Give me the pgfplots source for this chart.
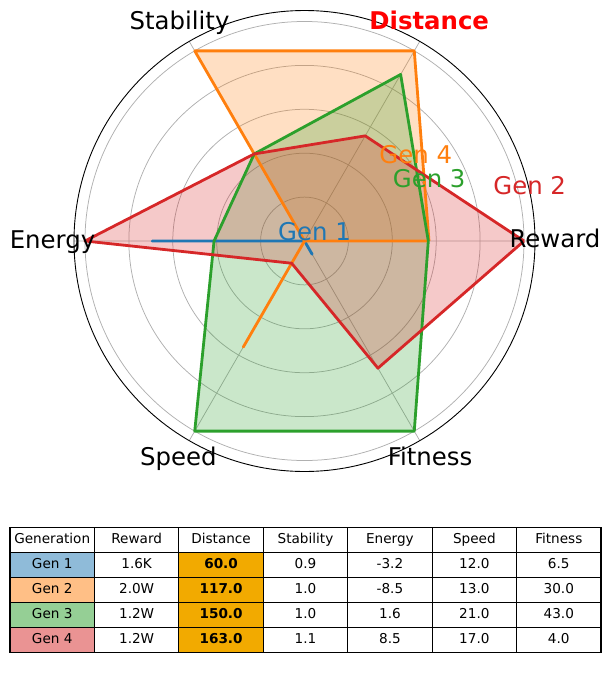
\documentclass[border=0pt]{standalone}
\usepackage{pgfplots}
\pgfplotsset{compat=1.18}
\usepgfplotslibrary{polar}
\usepackage{fontspec}
\setmainfont{DejaVu Sans}
\definecolor{tabblue}{RGB}{31,119,180}
\definecolor{taborange}{RGB}{255,127,14}
\definecolor{tabgreen}{RGB}{44,160,44}
\definecolor{tabred}{RGB}{214,39,40}
\definecolor{cblue}{RGB}{143,187,217}
\definecolor{corange}{RGB}{255,191,134}
\definecolor{cgreen}{RGB}{149,207,149}
\definecolor{cred}{RGB}{234,147,147}
\definecolor{cgold}{RGB}{242,170,0}
\definecolor{gridgray}{RGB}{176,176,176}
\newcommand{\lblfont}{\fontsize{24.4}{29}\selectfont}
\newcommand{\tabfont}{\fontsize{13.6}{16}\selectfont}
\newcommand{\tcell}[4]{%
  \path[draw=black, line width=1.1pt, fill=#3] ({10pt+#1*84.43pt},{-527.3pt-#2*25pt}) rectangle ++(84.43pt,-25pt);
  \node[anchor=base, inner sep=0pt, font=\tabfont] at ({10pt+(#1+0.5)*84.43pt},{-527.3pt-(#2+0.5)*25pt-3.6pt}) {#4};}
\begin{document}
\begin{tikzpicture}
\useasboundingbox (0pt,0pt) rectangle (611pt,-676pt);
\begin{polaraxis}[
  at={(304.5pt,-241pt)}, anchor=center,
  scale only axis, width=461pt, height=461pt,
  xmin=0, xmax=360, ymin=0, ymax=1.05,
  xtick={0,60,120,180,240,300}, xticklabels={},
  ytick={0.2,0.4,0.6,0.8,1.0}, yticklabels={},
  grid=major,
  major grid style={draw=gridgray, line width=0.75pt},
  major tick length=0pt,
  x axis line style={line width=0.9pt, black},
  y axis line style={draw=none},
  clip=false,
]
% fills
\addplot[draw=none, fill=tabblue, fill opacity=0.25] coordinates {(0,0) (60,0) (120,0) (180,0.694) (240,0) (300,0.07) (360,0)};
\addplot[draw=none, fill=taborange, fill opacity=0.25] coordinates {(0,0.567) (60,1.0) (120,1.0) (180,0) (240,0.558) (300,0) (360,0.567)};
\addplot[draw=none, fill=tabgreen, fill opacity=0.25] coordinates {(0,0.564) (60,0.876) (120,0.458) (180,0.412) (240,1.0) (300,1.0) (360,0.564)};
\addplot[draw=none, fill=tabred, fill opacity=0.25] coordinates {(0,1.0) (60,0.553) (120,0.458) (180,1.0) (240,0.117) (300,0.669) (360,1.0)};
% lines
\addplot[tabblue, line width=2.8pt, line join=round] coordinates {(0,0) (60,0) (120,0) (180,0.694) (240,0) (300,0.07) (360,0)};
\addplot[taborange, line width=2.8pt, line join=round] coordinates {(0,0.567) (60,1.0) (120,1.0) (180,0) (240,0.558) (300,0) (360,0.567)};
\addplot[tabgreen, line width=2.8pt, line join=round] coordinates {(0,0.564) (60,0.876) (120,0.458) (180,0.412) (240,1.0) (300,1.0) (360,0.564)};
\addplot[tabred, line width=2.8pt, line join=round] coordinates {(0,1.0) (60,0.553) (120,0.458) (180,1.0) (240,0.117) (300,0.669) (360,1.0)};
\end{polaraxis}
% axis category labels
\node[anchor=base, inner sep=0pt, font=\lblfont] at (555pt,-247.3pt) {Reward};
\node[anchor=base, inner sep=0pt, font=\lblfont\bfseries, text={rgb,255:red,255;green,0;blue,0}] at (429.2pt,-30pt) {Distance};
\node[anchor=base, inner sep=0pt, font=\lblfont] at (179.5pt,-30pt) {Stability};
\node[anchor=base, inner sep=0pt, font=\lblfont] at (52.5pt,-248.3pt) {Energy};
\node[anchor=base, inner sep=0pt, font=\lblfont] at (178.3pt,-465pt) {Speed};
\node[anchor=base, inner sep=0pt, font=\lblfont] at (430pt,-465pt) {Fitness};
% series labels
\node[anchor=base, inner sep=0pt, font=\lblfont, text=taborange] at (415.8pt,-163.3pt) {Gen 4};
\node[anchor=base, inner sep=0pt, font=\lblfont, text=tabgreen] at (429.2pt,-187.7pt) {Gen 3};
\node[anchor=base, inner sep=0pt, font=\lblfont, text=tabred] at (529.7pt,-194.3pt) {Gen 2};
\node[anchor=base, inner sep=0pt, font=\lblfont, text=tabblue] at (314.5pt,-240pt) {Gen 1};
% table
\tcell{0}{0}{white}{Generation}
\tcell{1}{0}{white}{Reward}
\tcell{2}{0}{white}{Distance}
\tcell{3}{0}{white}{Stability}
\tcell{4}{0}{white}{Energy}
\tcell{5}{0}{white}{Speed}
\tcell{6}{0}{white}{Fitness}
\tcell{0}{1}{cblue}{Gen 1}
\tcell{1}{1}{white}{1.6K}
\tcell{2}{1}{cgold}{\bfseries 60.0}
\tcell{3}{1}{white}{0.9}
\tcell{4}{1}{white}{-3.2}
\tcell{5}{1}{white}{12.0}
\tcell{6}{1}{white}{6.5}
\tcell{0}{2}{corange}{Gen 2}
\tcell{1}{2}{white}{2.0W}
\tcell{2}{2}{cgold}{\bfseries 117.0}
\tcell{3}{2}{white}{1.0}
\tcell{4}{2}{white}{-8.5}
\tcell{5}{2}{white}{13.0}
\tcell{6}{2}{white}{30.0}
\tcell{0}{3}{cgreen}{Gen 3}
\tcell{1}{3}{white}{1.2W}
\tcell{2}{3}{cgold}{\bfseries 150.0}
\tcell{3}{3}{white}{1.0}
\tcell{4}{3}{white}{1.6}
\tcell{5}{3}{white}{21.0}
\tcell{6}{3}{white}{43.0}
\tcell{0}{4}{cred}{Gen 4}
\tcell{1}{4}{white}{1.2W}
\tcell{2}{4}{cgold}{\bfseries 163.0}
\tcell{3}{4}{white}{1.1}
\tcell{4}{4}{white}{8.5}
\tcell{5}{4}{white}{17.0}
\tcell{6}{4}{white}{4.0}
\end{tikzpicture}
\end{document}
